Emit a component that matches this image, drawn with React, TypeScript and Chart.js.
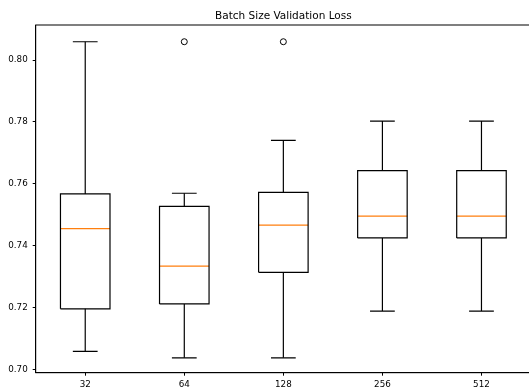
import { useEffect, useRef } from 'react';
import { Chart, registerables } from 'chart.js';

Chart.register(...registerables);

const categories = ['32', '64', '128', '256', '512'];
const lowerWhisker = [0.706, 0.7039, 0.7039, 0.719, 0.719];
const q1 = [0.7197, 0.7213, 0.7315, 0.7426, 0.7426];
const median = [0.7456, 0.7335, 0.7467, 0.7496, 0.7496];
const q3 = [0.7568, 0.7528, 0.7573, 0.7643, 0.7643];
const upperWhisker = [0.8059, 0.757, 0.7741, 0.7803, 0.7803];
const outliers: number[][] = [[], [0.8059], [0.8059], [], []];
const yTicks = [0.7, 0.72, 0.74, 0.76, 0.78, 0.8];

const BOX_HALF = 0.25;
const CAP_HALF = 0.125;
const FONT = 'DejaVu Sans';

type P = { x: number; y: number | null };

function buildBoxes(): P[] {
  const out: P[] = [];
  categories.forEach((_, i) => {
    const x = i + 1;
    out.push({ x: x - BOX_HALF, y: q1[i] }, { x: x + BOX_HALF, y: q1[i] }, { x: x + BOX_HALF, y: q3[i] },
      { x: x - BOX_HALF, y: q3[i] }, { x: x - BOX_HALF, y: q1[i] }, { x, y: null });
  });
  return out;
}
function buildWhiskers(): P[] {
  const out: P[] = [];
  categories.forEach((_, i) => {
    const x = i + 1;
    out.push({ x, y: q3[i] }, { x, y: upperWhisker[i] }, { x, y: null });
    out.push({ x, y: q1[i] }, { x, y: lowerWhisker[i] }, { x, y: null });
  });
  return out;
}
function buildCaps(): P[] {
  const out: P[] = [];
  categories.forEach((_, i) => {
    const x = i + 1;
    out.push({ x: x - CAP_HALF, y: upperWhisker[i] }, { x: x + CAP_HALF, y: upperWhisker[i] }, { x, y: null });
    out.push({ x: x - CAP_HALF, y: lowerWhisker[i] }, { x: x + CAP_HALF, y: lowerWhisker[i] }, { x, y: null });
  });
  return out;
}
function buildMedians(): P[] {
  const out: P[] = [];
  categories.forEach((_, i) => {
    const x = i + 1;
    out.push({ x: x - BOX_HALF, y: median[i] }, { x: x + BOX_HALF, y: median[i] }, { x, y: null });
  });
  return out;
}
function buildOutliers(): P[] {
  const out: P[] = [];
  outliers.forEach((vals, i) => vals.forEach((v) => out.push({ x: i + 1, y: v })));
  return out;
}

const framePlugin = {
  id: 'frame',
  afterDatasetsDraw(chart: any) {
    const { ctx, chartArea } = chart;
    ctx.save();
    ctx.strokeStyle = '#000';
    ctx.lineWidth = 1;
    ctx.strokeRect(chartArea.left, chartArea.top, chartArea.right - chartArea.left, chartArea.bottom - chartArea.top);
    ctx.restore();
  },
};

export default function App() {
  const ref = useRef<HTMLCanvasElement>(null);
  useEffect(() => {
    const lineDs = (data: P[], color: string) => ({
      type: 'line' as const,
      data,
      borderColor: color,
      borderWidth: 1.2,
      pointRadius: 0,
      fill: false,
      spanGaps: false,
      tension: 0,
    });
    const chart = new Chart(ref.current!, {
      type: 'scatter',
      data: {
        datasets: [
          lineDs(buildBoxes(), '#000'),
          lineDs(buildWhiskers(), '#000'),
          lineDs(buildCaps(), '#000'),
          lineDs(buildMedians(), '#ff7f0e'),
          {
            type: 'scatter',
            data: buildOutliers(),
            pointStyle: 'circle',
            pointRadius: 3,
            borderColor: '#000',
            backgroundColor: 'rgba(0,0,0,0)',
            borderWidth: 1,
          } as any,
        ],
      },
      options: {
        responsive: false,
        animation: false,
        devicePixelRatio: 1,
        layout: { padding: { left: 0, right: 1.6, top: 0, bottom: 0 } },
        plugins: {
          legend: { display: false },
          tooltip: { enabled: false },
          title: {
            display: true,
            text: 'Batch Size Validation Loss',
            fullSize: false,
            color: '#000',
            font: { family: FONT, size: 10.5, weight: 'normal', lineHeight: 1.2 },
            padding: { top: 10.1, bottom: 2.3 },
          },
        },
        scales: {
          x: {
            type: 'linear',
            min: 0.5,
            max: 5.5,
            afterBuildTicks: (s: any) => {
              s.ticks = categories.map((_, i) => ({ value: i + 1 }));
            },
            afterFit: (s: any) => {
              s.height = 16.3;
            },
            ticks: {
              callback: (v: any) => categories[Math.round(Number(v)) - 1] ?? '',
              color: '#000',
              font: { family: FONT, size: 8.75 },
              maxRotation: 0,
              autoSkip: false,
              padding: 4,
            },
            grid: { drawOnChartArea: false, tickLength: 3, color: '#000' },
            border: { color: '#000', width: 1 },
          },
          y: {
            type: 'linear',
            min: 0.6991,
            max: 0.8113,
            afterBuildTicks: (s: any) => {
              s.ticks = yTicks.map((v) => ({ value: v }));
            },
            afterFit: (s: any) => {
              s.width = 35.7;
            },
            ticks: {
              callback: (v: any) => Number(v).toFixed(2),
              color: '#000',
              font: { family: FONT, size: 8.75 },
              padding: 5,
            },
            grid: { drawOnChartArea: false, tickLength: 3, color: '#000' },
            border: { color: '#000', width: 1 },
          },
        },
      } as any,
      plugins: [framePlugin],
    });
    return () => chart.destroy();
  }, []);
  return (
    <div style={{ position: 'fixed', left: 0, top: 0, width: 529, height: 389, overflow: 'hidden', background: '#fff' }}>
      <canvas ref={ref} width={536} height={389} style={{ display: 'block', width: 536, height: 389 }} />
    </div>
  );
}
